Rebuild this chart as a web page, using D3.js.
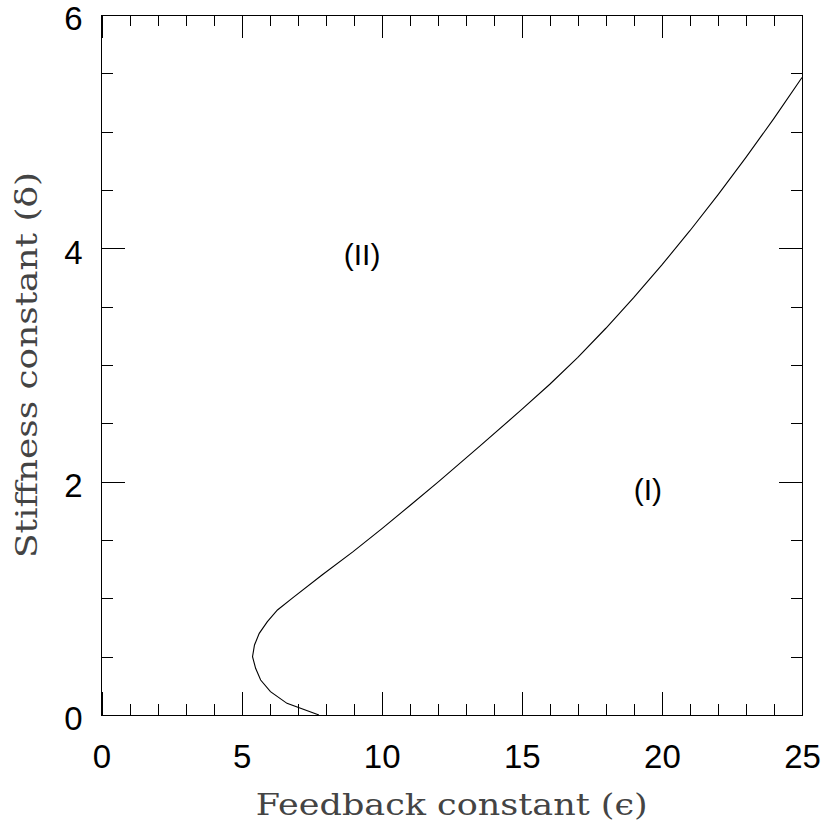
<!DOCTYPE html>
<html>
<head>
  <meta charset="UTF-8">
  <script src="https://cdn.jsdelivr.net/npm/d3@7"></script>
  <style>
    body { margin: 0; background: #fff; }
    svg { display: block; }
  </style>
</head>
<body>
<svg width="828" height="829"></svg>
<script>
  // boundary curve: feedback constant (eps) vs stiffness (delta)
  var epsValues   = [7.76, 6.62, 6.03, 5.68, 5.50, 5.39, 5.46, 5.63, 5.92, 6.28, 6.80, 7.87, 8.98, 10.02, 11.03, 12.03, 13.48, 15.0,  16.0,  17.0,  18.0,  19.0,  20.0,  21.0,  22.0,  23.0,  24.0,  25.0];
  var deltaValues = [0,    0.1,  0.2,  0.3,  0.4,  0.5,  0.6,  0.7,  0.8,  0.9,  1.0,  1.2,  1.4,  1.6,   1.8,   2.0,   2.3,   2.62,  2.835, 3.066, 3.315, 3.579, 3.858, 4.151, 4.458, 4.779, 5.114, 5.464];

  var xMajorTicks = [0, 5, 10, 15, 20, 25];
  var xMinorTicks = d3.range(0, 26, 1);
  var yMajorTicks = [0, 2, 4, 6];
  var yMinorTicks = d3.range(0, 6.01, 0.5);

  var regionLabels = [
    { text: "(II)", eps: 9.3, delta: 3.95 },
    { text: "(I)",  eps: 19.5, delta: 1.93 }
  ];

  // note: "top" is window.top, so use plot* names
  var plotLeft = 101.5, plotRight = 802, plotTop = 15, plotBottom = 715;
  var majorLen = 23, minorLen = 11;

  var svg = d3.select("svg");

  var x = d3.scaleLinear().domain([0, 25]).range([plotLeft, plotRight]);
  var y = d3.scaleLinear().domain([0, 6]).range([plotBottom, plotTop]);

  function styleAxis(g)
  {
    g.select(".domain").remove();
    g.selectAll(".tick line").attr("stroke", "#000").attr("stroke-width", 1).attr("shape-rendering", "crispEdges");
    g.selectAll(".tick text")
        .attr("fill", "#000")
        .attr("font-family", "'Liberation Sans', Arial, sans-serif")
        .attr("font-size", 33);
  }

  // minor ticks, all four sides, inward
  svg.append("g").attr("transform", "translate(0," + plotBottom + ")")
      .call(d3.axisBottom(x).tickValues(xMinorTicks).tickSize(-minorLen).tickFormat(""))
      .call(styleAxis);
  svg.append("g").attr("transform", "translate(0," + plotTop + ")")
      .call(d3.axisTop(x).tickValues(xMinorTicks).tickSize(-minorLen).tickFormat(""))
      .call(styleAxis);
  svg.append("g").attr("transform", "translate(" + plotLeft + ",0)")
      .call(d3.axisLeft(y).tickValues(yMinorTicks).tickSize(-minorLen).tickFormat(""))
      .call(styleAxis);
  svg.append("g").attr("transform", "translate(" + plotRight + ",0)")
      .call(d3.axisRight(y).tickValues(yMinorTicks).tickSize(-minorLen).tickFormat(""))
      .call(styleAxis);

  // major ticks with labels
  svg.append("g").attr("transform", "translate(0," + plotBottom + ")")
      .call(d3.axisBottom(x).tickValues(xMajorTicks).tickSize(-majorLen).tickPadding(30).tickFormat(d3.format("d")))
      .call(styleAxis);
  svg.append("g").attr("transform", "translate(0," + plotTop + ")")
      .call(d3.axisTop(x).tickValues(xMajorTicks).tickSize(-majorLen).tickFormat(""))
      .call(styleAxis);
  svg.append("g").attr("transform", "translate(" + plotLeft + ",0)")
      .call(d3.axisLeft(y).tickValues(yMajorTicks).tickSize(-majorLen).tickPadding(19).tickFormat(d3.format("d")))
      .call(styleAxis)
      .selectAll(".tick text").attr("dy", "0.45em");
  svg.append("g").attr("transform", "translate(" + plotRight + ",0)")
      .call(d3.axisRight(y).tickValues(yMajorTicks).tickSize(-majorLen).tickFormat(""))
      .call(styleAxis);

  // frame
  svg.append("rect")
      .attr("x", plotLeft).attr("y", plotTop)
      .attr("width", plotRight - plotLeft).attr("height", plotBottom - plotTop)
      .attr("fill", "none").attr("stroke", "#000").attr("stroke-width", 1)
      .attr("shape-rendering", "crispEdges");

  // boundary curve
  var points = epsValues.map(function (e, i) { return [e, deltaValues[i]]; });
  var line = d3.line()
      .x(function (d) { return x(d[0]); })
      .y(function (d) { return y(d[1]); });

  svg.append("path")
      .datum(points)
      .attr("fill", "none")
      .attr("stroke", "#000")
      .attr("stroke-width", 1.1)
      .attr("d", line);

  // region labels
  svg.selectAll("text.region").data(regionLabels).enter()
      .append("text")
      .attr("class", "region")
      .attr("x", function (d) { return x(d.eps); })
      .attr("y", function (d) { return y(d.delta); })
      .attr("text-anchor", "middle")
      .attr("dominant-baseline", "central")
      .attr("font-family", "'Liberation Sans', Arial, sans-serif")
      .attr("font-size", 30)
      .attr("fill", "#000")
      .text(function (d) { return d.text; });

  // axis titles
  svg.append("text")
      .attr("x", (plotLeft + plotRight) / 2)
      .attr("y", 815)
      .attr("text-anchor", "middle")
      .attr("font-family", "'DejaVu Serif', serif")
      .attr("font-size", 29)
      .attr("fill", "#444")
      .attr("textLength", 392)
      .attr("lengthAdjust", "spacingAndGlyphs")
      .text("Feedback constant (\u03f5)");

  svg.append("text")
      .attr("transform", "translate(37," + (plotTop + plotBottom) / 2 + ") rotate(-90)")
      .attr("text-anchor", "middle")
      .attr("font-family", "'DejaVu Serif', serif")
      .attr("font-size", 29)
      .attr("fill", "#444")
      .attr("textLength", 386)
      .attr("lengthAdjust", "spacingAndGlyphs")
      .text("Stiffness constant (\u03b4)");
</script>
</body>
</html>
